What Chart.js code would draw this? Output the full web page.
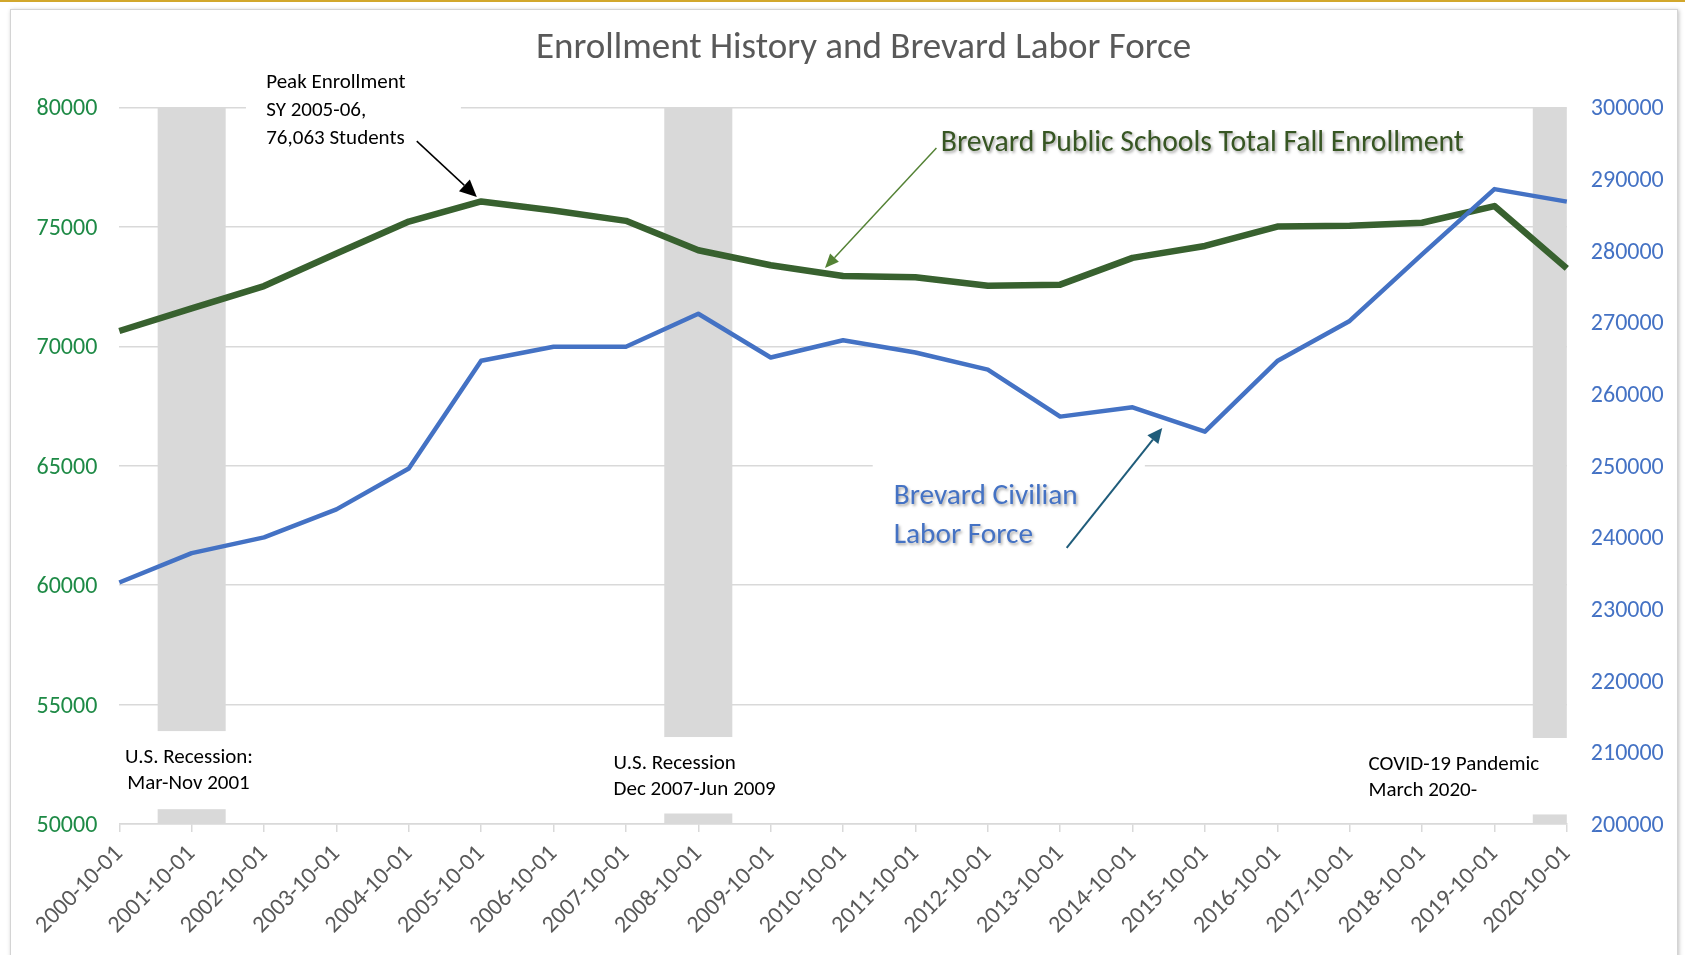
<!DOCTYPE html>
<html>
<head>
<meta charset="utf-8">
<title>Enrollment History and Brevard Labor Force</title>
<script src="https://cdn.jsdelivr.net/npm/chart.js@4.4.1/dist/chart.umd.min.js"></script>
<style>
    html, body { margin: 0; padding: 0; background: #fff; overflow: hidden; }
    .gold { position: absolute; left: 0; top: 0; width: 1685px; height: 2px; background: #d2a72c; }
    .frame { position: absolute; left: 10px; top: 9px; width: 1666px; height: 960px;
             border: 1px solid #d4d4d4; box-shadow: 1px 1px 4px rgba(0,0,0,0.25); background: #fff; }
    #chart { position: absolute; left: 0; top: 0; }
</style>
</head>
<body>
<div class="gold"></div>
<div class="frame"></div>
<canvas id="chart" width="1685" height="955"></canvas>
<script>
// Fall dates (category axis)
var years = ['2000-10-01', '2001-10-01', '2002-10-01', '2003-10-01', '2004-10-01',
    '2005-10-01', '2006-10-01', '2007-10-01', '2008-10-01', '2009-10-01', '2010-10-01',
    '2011-10-01', '2012-10-01', '2013-10-01', '2014-10-01', '2015-10-01', '2016-10-01',
    '2017-10-01', '2018-10-01', '2019-10-01', '2020-10-01'];

// Brevard Public Schools total fall enrollment (left axis)
var enrollment = [70640, 71590, 72520, 73880, 75220, 76063, 75680, 75250, 74020, 73390,
    72940, 72890, 72530, 72580, 73700, 74200, 75010, 75050, 75170, 75870, 73260];

// Brevard civilian labor force (right axis)
var laborForce = [233700, 237800, 240000, 243900, 249600, 264650, 266600, 266600, 271200, 265100,
    267500, 265800, 263400, 256850, 258150, 254750, 264600, 270200, 279500, 288600, 286850];

// Recession shading (full height of left axis where a recession happened)
var recessions = [null, 80000, null, null, null, null, null, null, 80000, null, null,
    null, null, null, null, null, null, null, null, null, 80000];

var leftTicks = { min: 50000, max: 80000, step: 5000 };
var rightTicks = { min: 200000, max: 300000, step: 10000 };

var FONT = "Carlito, Calibri, 'Liberation Sans Narrow', 'Open Sans', sans-serif";
var TEXT_DY = 2; // small baseline correction for the substitute font

// Helper: draw a straight arrow with a filled head
function drawArrow(ctx, x1, y1, x2, y2, color, width, headLen, headHalf) {
    var ang = Math.atan2(y2 - y1, x2 - x1);
    var bx = x2 - headLen * Math.cos(ang);
    var by = y2 - headLen * Math.sin(ang);
    ctx.save();
    ctx.strokeStyle = color;
    ctx.fillStyle = color;
    ctx.lineWidth = width;
    ctx.beginPath();
    ctx.moveTo(x1, y1);
    ctx.lineTo(bx, by);
    ctx.stroke();
    ctx.beginPath();
    ctx.moveTo(x2, y2);
    ctx.lineTo(bx + headHalf * Math.sin(ang), by - headHalf * Math.cos(ang));
    ctx.lineTo(bx - headHalf * Math.sin(ang), by + headHalf * Math.cos(ang));
    ctx.closePath();
    ctx.fill();
    ctx.restore();
}

// Helper: white text box (covers grid lines and shading like the Excel text boxes)
function whiteBox(ctx, x1, y1, x2, y2) {
    ctx.save();
    ctx.fillStyle = '#ffffff';
    ctx.fillRect(Math.min(x1, x2), Math.min(y1, y2), Math.abs(x2 - x1), Math.abs(y2 - y1));
    ctx.restore();
}

function drawLines(ctx, lines, x, y, gap, size, color, shadow) {
    ctx.save();
    ctx.font = size + 'px ' + FONT;
    ctx.fillStyle = color;
    ctx.textAlign = 'left';
    ctx.textBaseline = 'middle';
    if (shadow) {
        ctx.shadowColor = 'rgba(0,0,0,0.35)';
        ctx.shadowOffsetX = 1.5;
        ctx.shadowOffsetY = 2;
        ctx.shadowBlur = 3;
    }
    lines.forEach(function(t, i) {
        ctx.fillText(t, x, y + TEXT_DY + i * gap);
    });
    ctx.restore();
}

var annotations = {
    id: 'annotations',
    // boxes and texts go right after the shading, before the two lines
    afterDatasetDraw: function(chart, args) {
        if (args.meta.type !== 'bar') return;
        var ctx = chart.ctx;
        var xs = chart.scales.x, ys = chart.scales.y;
        function px(i) { return xs.getPixelForValue(i); }
        function py(v) { return ys.getPixelForValue(v); }

        // Peak enrollment note
        whiteBox(ctx, px(1.75), py(81900), px(4.72), py(78200));
        drawLines(ctx, ['Peak Enrollment', 'SY 2005-06,', '76,063 Students'],
            px(2.03), py(81110), 28, 21, '#000000', false);

        // Recession notes
        whiteBox(ctx, px(0.02), py(53890), px(1.9), py(50620));
        drawLines(ctx, ['U.S. Recession:'], px(0.08), py(52850), 0, 21, '#000000', false);
        drawLines(ctx, ['Mar-Nov 2001'], px(0.11), py(51760), 0, 21, '#000000', false);
        whiteBox(ctx, px(6.7), py(53640), px(9.6), py(50440));
        drawLines(ctx, ['U.S. Recession', 'Dec 2007-Jun 2009'], px(6.83), py(52600), 25.5, 21, '#000000', false);
        whiteBox(ctx, px(17.1), py(53600), px(20.2), py(50400));
        drawLines(ctx, ['COVID-19 Pandemic', 'March 2020-'], px(17.26), py(52555), 25.5, 21, '#000000', false);

        // Series labels
        drawLines(ctx, ['Brevard Public Schools Total Fall Enrollment'], px(11.35), py(78555), 0, 29.7, '#375623', true);
        whiteBox(ctx, px(10.41), py(65150), px(14.17), py(61200));
        drawLines(ctx, ['Brevard Civilian', 'Labor Force'], px(10.70), py(63771), 38.5, 29.3, '#4472c4', true);
    },
    afterDatasetsDraw: function(chart) {
        var ctx = chart.ctx;
        var xs = chart.scales.x, ys = chart.scales.y;
        function px(i) { return xs.getPixelForValue(i); }
        function py(v) { return ys.getPixelForValue(v); }
        drawArrow(ctx, px(4.11), py(78590), px(4.94), py(76250), '#000000', 1.5, 17, 8);
        drawArrow(ctx, px(11.29), py(78300), px(9.75), py(73280), '#548235', 1.5, 14, 6);
        drawArrow(ctx, px(13.09), py(61560), px(14.41), py(66580), '#1f5c7a', 2, 15, 7);
    }
};

var ctx = document.getElementById('chart').getContext('2d');
new Chart(ctx, {
    type: 'line',
    data: {
        labels: years,
        datasets: [{
            type: 'line',
            label: 'Brevard Civilian Labor Force',
            data: laborForce,
            yAxisID: 'y1',
            borderColor: '#4472c4',
            borderWidth: 4.5,
            pointRadius: 0,
            tension: 0,
            borderJoinStyle: 'round',
            order: 1
        }, {
            type: 'line',
            label: 'Brevard Public Schools Total Fall Enrollment',
            data: enrollment,
            yAxisID: 'y',
            borderColor: '#38612f',
            borderWidth: 6.5,
            pointRadius: 0,
            tension: 0,
            borderJoinStyle: 'round',
            order: 2
        }, {
            type: 'bar',
            label: 'Recession',
            data: recessions,
            yAxisID: 'y',
            backgroundColor: '#d9d9d9',
            barPercentage: 0.94,
            categoryPercentage: 1,
            clip: 0,
            order: 3
        }]
    },
    options: {
        responsive: false,
        animation: false,
        events: [],
        // negative right padding shifts the centred title to the right like the original
        layout: { padding: { left: 0, right: -42, top: 0, bottom: 0 } },
        plugins: {
            legend: { display: false },
            tooltip: { enabled: false },
            title: {
                display: true,
                text: 'Enrollment History and Brevard Labor Force',
                color: '#595959',
                font: { family: FONT, size: 37, weight: 'normal' },
                padding: { top: 27, bottom: 36 }
            }
        },
        scales: {
            x: {
                type: 'category',
                offset: false,
                grid: { offset: false, drawOnChartArea: false, drawTicks: true, tickLength: 8,
                        color: '#d9d9d9', lineWidth: 1.5 },
                border: { color: '#d9d9d9', width: 1.5 },
                ticks: { autoSkip: false, minRotation: 45, maxRotation: 45, padding: 8,
                         color: '#595959', font: { family: FONT, size: 24 } },
                afterFit: function(s) { s.height = 131; }
            },
            y: {
                position: 'left',
                min: leftTicks.min,
                max: leftTicks.max,
                grid: { color: '#d9d9d9', lineWidth: 1.5, drawTicks: false },
                border: { display: false },
                ticks: { stepSize: leftTicks.step, padding: 22, labelOffset: 2, color: '#1e8a46',
                         font: { family: FONT, size: 24 },
                         callback: function(v) { return String(v); } },
                afterFit: function(s) { s.width = 119.3; }
            },
            y1: {
                position: 'right',
                min: rightTicks.min,
                max: rightTicks.max,
                grid: { drawOnChartArea: false, drawTicks: false },
                border: { display: false },
                ticks: { stepSize: rightTicks.step, padding: 24, labelOffset: 2, color: '#4472c4',
                         font: { family: FONT, size: 24 },
                         callback: function(v) { return String(v); } },
                afterFit: function(s) { s.width = 160.2; }
            }
        }
    },
    plugins: [annotations]
});
</script>
</body>
</html>
